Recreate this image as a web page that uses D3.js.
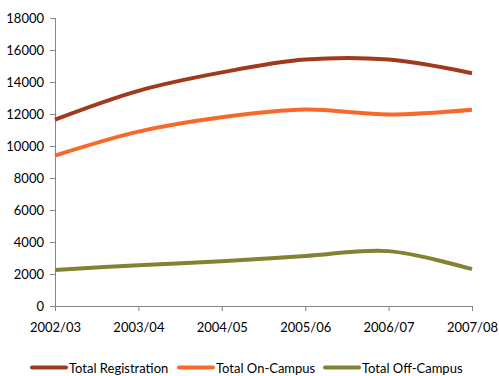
<!DOCTYPE html>
<html>
<head>
<meta charset="utf-8">
<script src="https://cdn.jsdelivr.net/npm/d3@7"></script>
<style>
  body { margin: 0; background: #fff; }
  text { font-family: Lato, "Open Sans", sans-serif; fill: #000; }
</style>
</head>
<body>
<div id="chart"></div>
<script>
"use strict";
const years = ['2002/03', '2003/04', '2004/05', '2005/06', '2006/07', '2007/08']
const registration = [11650, 13450, 14600, 15400, 15400, 14550]
const onCampus = [9400, 10900, 11800, 12280, 11970, 12270]
const offCampus = [2250, 2550, 2800, 3120, 3430, 2300]
const yTicks = [0, 2000, 4000, 6000, 8000, 10000, 12000, 14000, 16000, 18000]
const seriesNames = ['Total Registration', 'Total On-Campus', 'Total Off-Campus']
const seriesColors = ['#A0391E', '#F7692A', '#828232']

let m = { width: 499, height: 376, left: 55, right: 472, top: 18, bottom: 306 }

const svg = d3.select('#chart').append('svg')
    .attr('width', m.width)
    .attr('height', m.height)

let x = d3.scalePoint().domain(years).range([m.left, m.right])
let y = d3.scaleLinear().domain([0, 18000]).range([m.bottom, m.top])

// y axis
let yAxis = svg.append('g')
    .attr('transform', 'translate(' + m.left + ',0)')
    .call(d3.axisLeft(y).tickValues(yTicks).tickSize(5).tickPadding(6).tickFormat(d3.format('d')))
yAxis.selectAll('line, path').attr('stroke', '#868686')
yAxis.selectAll('text').attr('font-size', '13px')
yAxis.select('.domain').attr('d', 'M0.5,' + m.top + 'V' + m.bottom)

// x axis
let xAxis = svg.append('g')
    .attr('transform', 'translate(0,' + m.bottom + ')')
    .call(d3.axisBottom(x).tickSize(5).tickPadding(12))
xAxis.selectAll('line, path').attr('stroke', '#868686')
xAxis.selectAll('text').attr('font-size', '13px')
xAxis.select('.domain').attr('d', 'M' + m.left + ',0.5H' + m.right)

let line = d3.line()
    .x((d, i) => x(years[i]))
    .y(d => y(d))
    .curve(d3.curveCatmullRom.alpha(0.5))

;[registration, onCampus, offCampus].forEach(function(s, i) {
  svg.append('path')
      .datum(s)
      .attr('d', line)
      .attr('fill', 'none')
      .attr('stroke', seriesColors[i])
      .attr('stroke-width', 4)
})

// legend
let legendX = [32, 179, 325]
seriesNames.forEach(function(n, i) {
  let lg = svg.append('g').attr('transform', 'translate(' + legendX[i] + ',367.5)')
  lg.append('line')
      .attr('x1', 0).attr('x2', 34)
      .attr('stroke', seriesColors[i])
      .attr('stroke-width', 4)
      .attr('stroke-linecap', 'round')
  lg.append('text')
      .attr('x', 37)
      .attr('y', 5)
      .attr('font-size', '13px')
      .text(n)
})
</script>
</body>
</html>
